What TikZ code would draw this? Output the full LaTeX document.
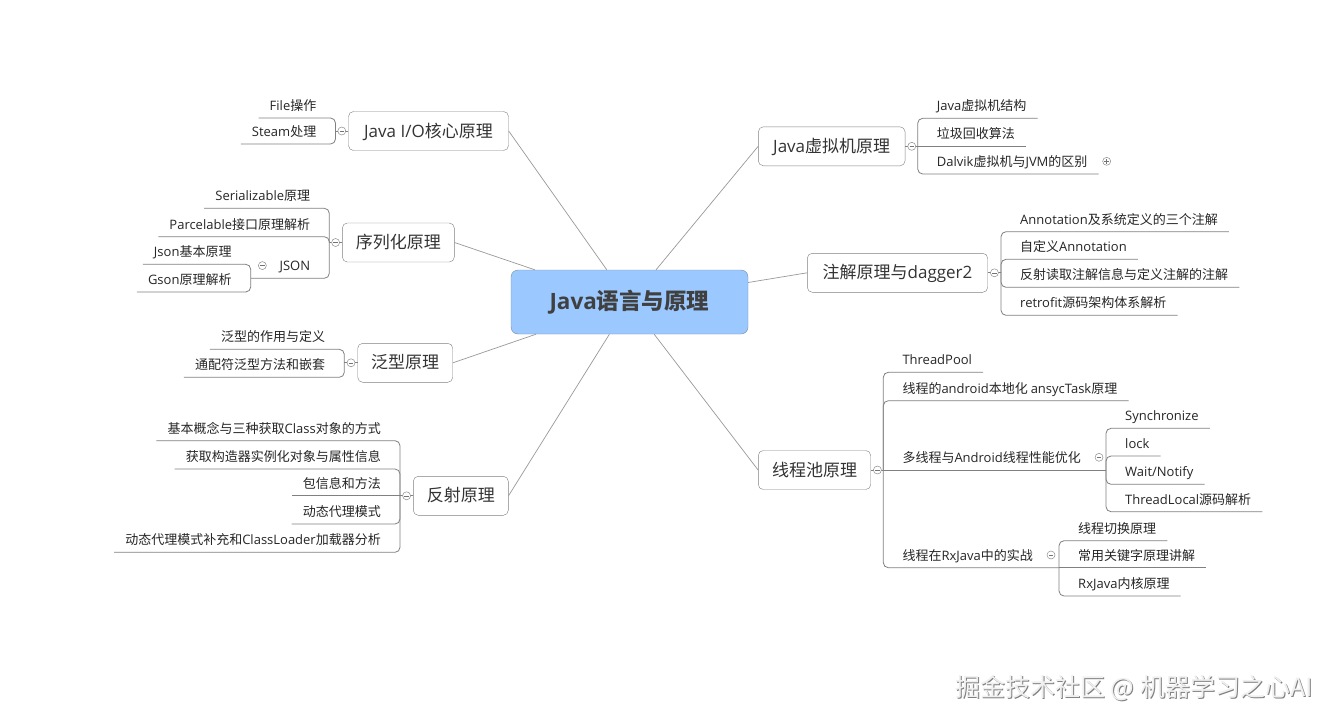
\documentclass[tikz,border=0pt]{standalone}
\usepackage{fontspec}
\setmainfont{Noto Sans CJK SC}
\newfontfamily\enfont{Open Sans}
\newcommand{\EN}[1]{{\enfont #1}}
\usetikzlibrary{calc}
\definecolor{rootblue}{RGB}{155,201,255}
\definecolor{rootline}{RGB}{120,138,160}

\begin{document}
\begin{tikzpicture}[x=1pt, y=-1pt,
  topic/.style={draw=black!50, fill=white, rounded corners=5pt, minimum height=39pt, inner xsep=8pt, text height=14pt, text depth=2pt, font=\fontsize{17}{20}\selectfont, text=black!80},
  central/.style={draw=rootline, fill=rootblue, rounded corners=7pt, minimum width=237pt, minimum height=64pt, text height=17pt, text depth=2pt, font=\fontsize{22.5}{26}\selectfont\bfseries, text=black!75},
  leaf/.style={inner xsep=11pt, inner ysep=0pt, minimum height=25pt, text height=12pt, text depth=2pt, font=\fontsize{13}{15}\selectfont, text=black!85},
  leafL/.style={leaf, anchor=south east},
  leafR/.style={leaf, anchor=south west},
  fold/.style={circle, draw=black!45, fill=white, minimum size=8pt, inner sep=0pt, line width=0.5pt,
    path picture={\draw[black!55, line width=0.6pt] ([xshift=-2.2pt]path picture bounding box.center) -- ([xshift=2.2pt]path picture bounding box.center);}},
  unfold/.style={circle, draw=black!45, fill=white, minimum size=8pt, inner sep=0pt, line width=0.5pt,
    path picture={\draw[black!55, line width=0.6pt] ([xshift=-2.2pt]path picture bounding box.center) -- ([xshift=2.2pt]path picture bounding box.center) ([yshift=-2.2pt]path picture bounding box.center) -- ([yshift=2.2pt]path picture bounding box.center);}},
  link/.style={draw=black!40, line width=0.7pt},
  branchline/.style={draw=black!50, line width=0.8pt, rounded corners=5pt}
]
\fill[white] (0,0) rectangle (1335,723);
\useasboundingbox (0,0) rectangle (1335,723);

% main topics
\node[central] (root) at (629.5,302) {\EN{Java}语言与原理};
\node[topic, minimum width=160pt] (io) at (428.5,131) {\EN{Java I/O}核心原理};
\node[topic, minimum width=112pt] (ser) at (398.3,242.5) {序列化原理};
\node[topic, minimum width=95pt] (gen) at (405.2,362.8) {泛型原理};
\node[topic, minimum width=95pt] (refl) at (460.8,495.8) {反射原理};
\node[topic, minimum width=146.7pt] (jvm) at (831.7,146.3) {\EN{Java}虚拟机原理};
\node[topic, minimum width=180.4pt] (ann) at (897.5,272.8) {注解原理与\EN{dagger2}};
\node[topic, minimum width=112.4pt] (pool) at (814.5,470) {线程池原理};

\draw[link] (root) -- (io.east);
\draw[link] (root) -- (ser.east);
\draw[link] (root) -- (gen.east);
\draw[link] (root) -- (refl.east);
\draw[link] (root) -- (jvm.west);
\draw[link] (root) -- (ann.west);
\draw[link] (root) -- (pool.west);

% spines
\coordinate (ioS) at (335.5,131);
\coordinate (serS) at (329.3,242.5);
\coordinate (jsonS) at (250.7,278.3);
\coordinate (genS) at (344.3,362.8);
\coordinate (reflS) at (400,495.8);
\coordinate (jvmS) at (917.7,146.3);
\coordinate (annS) at (1001,272.8);
\coordinate (poolS) at (883.3,470);
\coordinate (mtS) at (1106,470);
\coordinate (rxS) at (1059,567.7);

% left leaves
\node[leafL] (io1) at (327.5,118) {\EN{File}操作};
\node[leafL] (io2) at (327.5,144) {\EN{Steam}处理};
\node[leafL] (ser1) at (321.3,208.3) {\EN{Serializable}原理};
\node[leafL] (ser2) at (321.3,236.7) {\EN{Parcelable}接口原理解析};
\node[leafL] (json) at (321.3,278.3) {\EN{JSON}};
\node[leafL] (json1) at (242.7,264.3) {\EN{Json}基本原理};
\node[leafL] (json2) at (242.7,292) {\EN{Gson}原理解析};
\node[leafL] (gen1) at (336.3,349.3) {泛型的作用与定义};
\node[leafL] (gen2) at (336.3,377.3) {通配符泛型方法和嵌套};
\node[leafL] (refl1) at (392,440.7) {基本概念与三种获取\EN{Class}对象的方式};
\node[leafL] (refl2) at (392,469) {获取构造器实例化对象与属性信息};
\node[leafL] (refl3) at (392,495.8) {包信息和方法};
\node[leafL] (refl4) at (392,524) {动态代理模式};
\node[leafL] (refl5) at (392,552.3) {动态代理模式补充和\EN{ClassLoader}加载器分析};

% right leaves
\node[leafR] (jvm1) at (925.7,118.3) {\EN{Java}虚拟机结构};
\node[leafR] (jvm2) at (925.7,146.3) {垃圾回收算法};
\node[leafR] (jvm3) at (925.7,174) {\EN{Dalvik}虚拟机与\EN{JVM}的区别};
\node[leafR] (ann1) at (1009,231.7) {\EN{Annotation}及系统定义的三个注解};
\node[leafR] (ann2) at (1009,259.3) {自定义\EN{Annotation}};
\node[leafR] (ann3) at (1009,287.3) {反射读取注解信息与定义注解的注解};
\node[leafR] (ann4) at (1009,315.3) {\EN{retrofit}源码架构体系解析};
\node[leafR] (pool1) at (891.3,372.3) {\EN{ThreadPool}};
\node[leafR] (pool2) at (891.3,400.7) {线程的\EN{android}本地化 \EN{ansycTask}原理};
\node[leafR] (mt) at (891.3,470) {多线程与\EN{Android}线程性能优化};
\node[leafR] (rx) at (891.3,567.7) {线程在\EN{RxJava}中的实战};
\node[leafR] (mt1) at (1114,428.3) {\EN{Synchronize}};
\node[leafR] (mt2) at (1114,456) {\EN{lock}};
\node[leafR] (mt3) at (1114,484.3) {\EN{Wait/Notify}};
\node[leafR] (mt4) at (1114,511.7) {\EN{ThreadLocal}源码解析};
\node[leafR] (rx1) at (1067,540.7) {线程切换原理};
\node[leafR] (rx2) at (1067,567.7) {常用关键字原理讲解};
\node[leafR] (rx3) at (1067,596) {\EN{RxJava}内核原理};

% branches
\draw[branchline] (io.west) -- (ioS);
\draw[branchline] (ioS) |- (io1.south west);
\draw[branchline] (ioS) |- (io2.south west);
\draw[branchline] (ser.west) -- (serS);
\draw[branchline] (serS) |- (ser1.south west);
\draw[branchline] (serS) |- (ser2.south west);
\draw[branchline] (serS) |- (jsonS);
\draw[branchline] (jsonS) |- (json1.south west);
\draw[branchline] (jsonS) |- (json2.south west);
\draw[branchline] (gen.west) -- (genS);
\draw[branchline] (genS) |- (gen1.south west);
\draw[branchline] (genS) |- (gen2.south west);
\draw[branchline] (reflS) |- (refl1.south west);
\draw[branchline] (reflS) |- (refl2.south west);
\draw[branchline] (refl.west) -- (refl3.south west);
\draw[branchline] (reflS) |- (refl4.south west);
\draw[branchline] (reflS) |- (refl5.south west);
\draw[branchline] (jvmS) |- (jvm1.south east);
\draw[branchline] (jvm.east) -- (jvm2.south east);
\draw[branchline] (jvmS) |- (jvm3.south east);
\draw[branchline] (ann.east) -- (annS);
\draw[branchline] (annS) |- (ann1.south east);
\draw[branchline] (annS) |- (ann2.south east);
\draw[branchline] (annS) |- (ann3.south east);
\draw[branchline] (annS) |- (ann4.south east);
\draw[branchline] (poolS) |- (pool1.south east);
\draw[branchline] (poolS) |- (pool2.south east);
\draw[branchline] (pool.east) -- (mtS);
\draw[branchline] (poolS) |- (rxS);
\draw[branchline] (mtS) |- (mt1.south east);
\draw[branchline] (mtS) |- (mt2.south east);
\draw[branchline] (mtS) |- (mt3.south east);
\draw[branchline] (mtS) |- (mt4.south east);
\draw[branchline] (rxS) |- (rx1.south east);
\draw[branchline] (rxS) -- (rx2.south east);
\draw[branchline] (rxS) |- (rx3.south east);

% fold marks
\node[fold] (ioF) at ($(io.west)+(-6.5,0)$) {};
\node[fold] (serF) at ($(ser.west)+(-6.5,0)$) {};
\node[fold] (genF) at ($(gen.west)+(-6.5,0)$) {};
\node[fold] (reflF) at ($(refl.west)+(-6.5,0)$) {};
\node[fold] (jvmF) at ($(jvm.east)+(6.5,0)$) {};
\node[fold] (annF) at ($(ann.east)+(6.5,0)$) {};
\node[fold] (poolF) at ($(pool.east)+(6.5,0)$) {};
\node[fold] (jsonF) at ($(json.west)+(-6,0)$) {};
\node[fold] (mtF) at ($(mt.east)+(7,0)$) {};
\node[fold] (rxF) at ($(rx.east)+(7,0)$) {};
\node[unfold] (jvm3F) at ($(jvm3.east)+(8,0)$) {};

% watermark
\node[font=\fontsize{25}{28}\selectfont, text=black!50] (wm0) at (1135,689) {掘金技术社区 @ 机器学习之心AI};
\node[font=\fontsize{25}{28}\selectfont, text=white!94!black] (wm1) at (1134,688) {掘金技术社区 @ 机器学习之心AI};
\end{tikzpicture}
\end{document}
